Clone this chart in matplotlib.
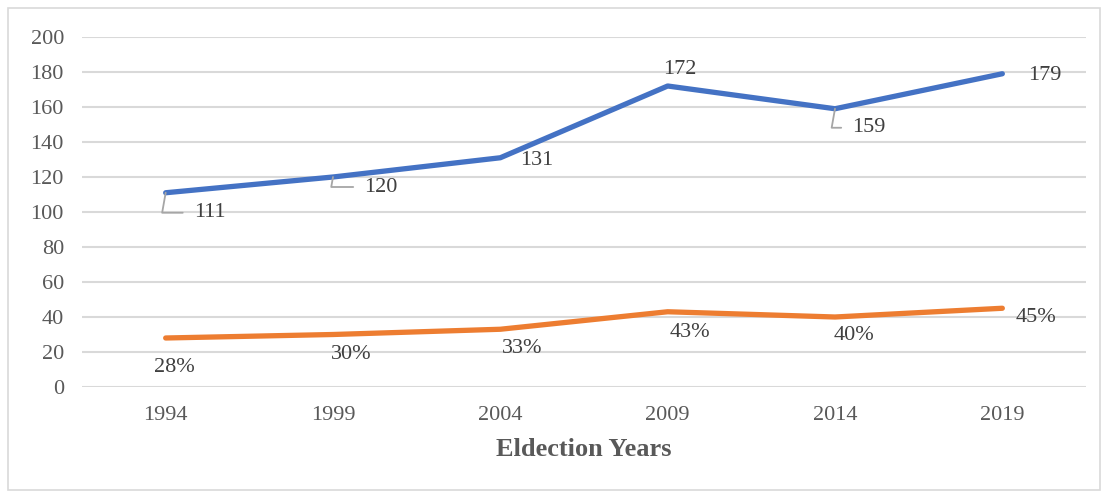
import matplotlib.pyplot as plt
from matplotlib.patches import Rectangle

# datos
years = ["1994", "1999", "2004", "2009", "2014", "2019"]
seats = [111, 120, 131, 172, 159, 179]
share = [28, 30, 33, 43, 40, 45]
share_labels = ["28%", "30%", "33%", "43%", "40%", "45%"]

# desplazamiento de etiquetas (pixeles)
seat_offsets = [(44, -20), (48, -10), (36, -3), (12, 17), (34, -19), (42, -2)]
seat_leader = [True, True, False, False, True, False]
share_offsets = [(9, -30), (18, -20), (22, -19), (22, -21), (19, -18), (34, -9)]

plt.rcParams["font.family"] = ["Liberation Serif", "DejaVu Serif"]

fig = plt.figure(figsize=(11.05, 4.97), dpi=100)
ax = fig.add_axes([82 / 1105, 110 / 497, 1004 / 1105, 350 / 497])

x = list(range(len(years)))
ax.plot(x, seats, color="#4472C4", lw=3.8, solid_capstyle="round", zorder=3)
ax.plot(x, share, color="#ED7D31", lw=3.8, solid_capstyle="round", zorder=3)

for i, v in enumerate(seats):
    dx, dy = seat_offsets[i]
    kw = {}
    if seat_leader[i]:
        kw["arrowprops"] = dict(arrowstyle="-", color="#A6A6A6", lw=1.3,
                                shrinkA=6, shrinkB=0,
                                connectionstyle="angle,angleA=0,angleB=80,rad=0")
    ax.annotate(str(v), (i, v), xytext=(dx, dy), textcoords="offset pixels",
                ha="center", va="center", fontsize=16, color="#404040", **kw)

for i, v in enumerate(share):
    dx, dy = share_offsets[i]
    ax.annotate(share_labels[i], (i, v), xytext=(dx, dy), textcoords="offset pixels",
                ha="center", va="center", fontsize=16, color="#404040")

ax.set_xlim(-0.5, len(years) - 0.5)
ax.set_ylim(0, 200)
ax.set_yticks(range(0, 201, 20))
ax.set_xticks(x)
ax.set_xticklabels(years)
ax.tick_params(length=0, labelsize=16, labelcolor="#595959")
ax.tick_params(axis="y", pad=13)
ax.tick_params(axis="x", pad=14)
ax.grid(axis="y", color="#D9D9D9", lw=1.5)
ax.set_axisbelow(True)
for s in ax.spines.values():
    s.set_visible(False)

ax.set_xlabel("Eldection Years", fontsize=19, fontweight="bold", color="#595959", labelpad=9)

fig.patches.append(Rectangle((8 / 1105, 7 / 497), 1092 / 1105, 482 / 497,
                             transform=fig.transFigure, fill=False,
                             edgecolor="#D9D9D9", lw=1.2))

fig.savefig("out.png", dpi=100)
